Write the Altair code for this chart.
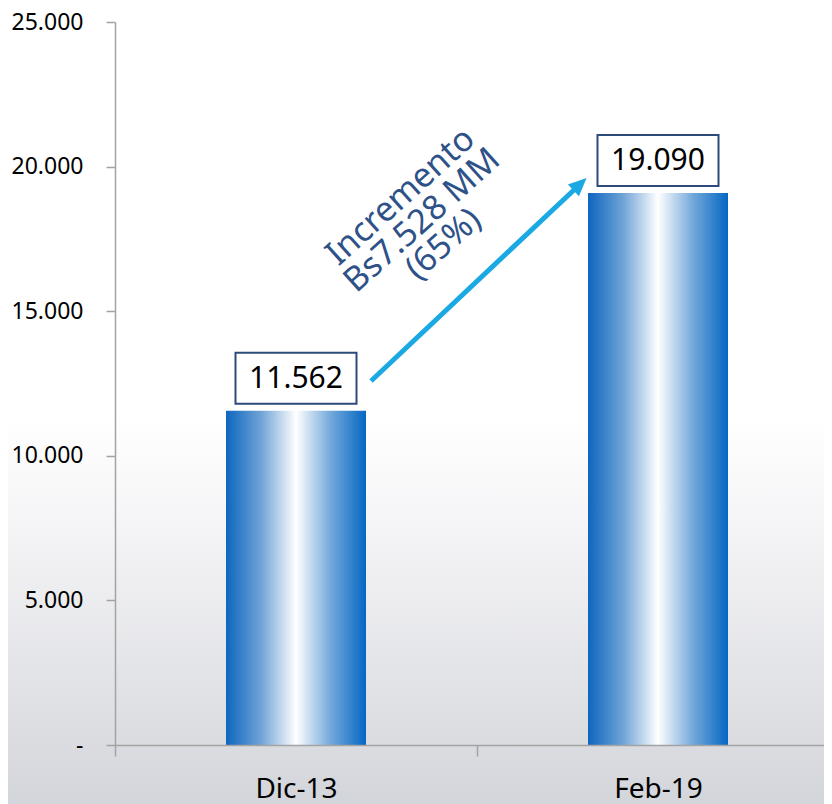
import altair as alt
import pandas as pd

# ---- data ----
categories = ["Dic-13", "Feb-19"]
values = [11562, 19090]
y_ticks = [0, 5000, 10000, 15000, 20000, 25000]

annot_lines = ["Incremento", "Bs7.528 MM", "(65%)"]
annot_cat = ["Dic-13"]
annot_value = [18950]

arrow_from_cat = ["Dic-13"]
arrow_to_cat = ["Feb-19"]
arrow_from_value = [12586]
arrow_to_value = [19391]

FONT = "Noto Sans"
AXIS_GRAY = "#A3A3A3"
ARROW_BLUE = "#1BA9E4"
TEXT_BLUE = "#2E5288"

df = pd.DataFrame({"cat": categories, "value": values})
annot_df = pd.DataFrame({"cat": annot_cat, "v": annot_value})
arrow_df = pd.DataFrame({"c1": arrow_from_cat, "c2": arrow_to_cat,
                         "v1": arrow_from_value, "v2": arrow_to_value})

bar_gradient = alt.Gradient(
    gradient="linear",
    stops=[alt.GradientStop(color="#0E66BF", offset=0),
           alt.GradientStop(color="#6FA3D6", offset=0.25),
           alt.GradientStop(color="#FFFFFF", offset=0.5),
           alt.GradientStop(color="#72A8DA", offset=0.75),
           alt.GradientStop(color="#0467C3", offset=1)],
    x1=0, x2=1, y1=0, y2=0)

bg_gradient = alt.Gradient(
    gradient="linear",
    stops=[alt.GradientStop(color="#FFFFFF", offset=0),
           alt.GradientStop(color="#FFFFFF", offset=0.5),
           alt.GradientStop(color="#F6F6F8", offset=0.62),
           alt.GradientStop(color="#DEDFE3", offset=0.87),
           alt.GradientStop(color="#D0D3D9", offset=1)],
    x1=0, x2=0, y1=0, y2=1)

x_enc = alt.X("cat:N",
              scale=alt.Scale(range=[0, 724], paddingInner=0, paddingOuter=0),
              axis=alt.Axis(title=None, labelAngle=0, labelFontSize=28, labelFont=FONT,
                            labelColor="#000000", tickBand="extent", tickSize=11,
                            tickColor=AXIS_GRAY, tickWidth=1.5, domainColor=AXIS_GRAY,
                            domainWidth=1.5, labelPadding=19, zindex=1))
y_enc = alt.Y("value:Q",
              scale=alt.Scale(domain=[0, 25000], nice=False),
              axis=alt.Axis(title=None, values=y_ticks, grid=False,
                            labelExpr="datum.value == 0 ? '-\u00a0\u00a0' : replace(format(datum.value, ','), ',', '.')",
                            labelFontSize=23, labelFont=FONT, labelColor="#000000",
                            tickSize=9, tickColor=AXIS_GRAY, tickWidth=1.5,
                            domainColor=AXIS_GRAY, domainWidth=1.5, labelPadding=23,
                            zindex=1))

bg = alt.Chart(alt.Data(values=[{}])).mark_rect(fill=bg_gradient).encode(
    x=alt.value(-107), x2=alt.value(724), y=alt.value(-14), y2=alt.value(800))

bars = alt.Chart(df).mark_bar(width=140, fill=bar_gradient).encode(x=x_enc, y=y_enc)

boxes = alt.Chart(df).mark_bar(width=121, fill="white", stroke="#2C4A7A", strokeWidth=2,
                               yOffset=-7, y2Offset=-58).encode(
    x="cat:N", y="value:Q", y2="value:Q")

box_text = alt.Chart(df).transform_calculate(
    label="replace(format(datum.value, ','), ',', '.')"
).mark_text(fontSize=30, font=FONT, color="#000000", yOffset=-32,
            baseline="middle", align="center").encode(
    x="cat:N", y="value:Q", text="label:N")

arrow_line = alt.Chart(arrow_df).mark_rule(color=ARROW_BLUE, strokeWidth=5,
                                           xOffset=75, x2Offset=-78).encode(
    x="c1:N", x2="c2:N", y="v1:Q", y2="v2:Q")

arrow_head = alt.Chart(arrow_df).mark_point(
    shape="M0,-1L0.9,1L-0.9,1Z", size=324, filled=True, fill=ARROW_BLUE,
    opacity=1, strokeWidth=0, angle=47, xOffset=-78).encode(
    x="c2:N", y="v2:Q")

annot = alt.Chart(annot_df).mark_text(
    text=annot_lines, angle=318, xOffset=105, fontSize=34, lineHeight=32,
    font=FONT, color=TEXT_BLUE, align="center", baseline="middle").encode(
    x="cat:N", y="v:Q")

chart = alt.layer(bg, bars, boxes, box_text, arrow_line, arrow_head, annot).properties(
    width=709, height=723,
    autosize=alt.AutoSizeParams(type="none"),
    padding={"left": 107, "top": 14, "right": 0, "bottom": 59},
    background="white"
).configure_view(stroke=None)

chart.save("out.html", embed_options={"renderer": "svg", "actions": False})
